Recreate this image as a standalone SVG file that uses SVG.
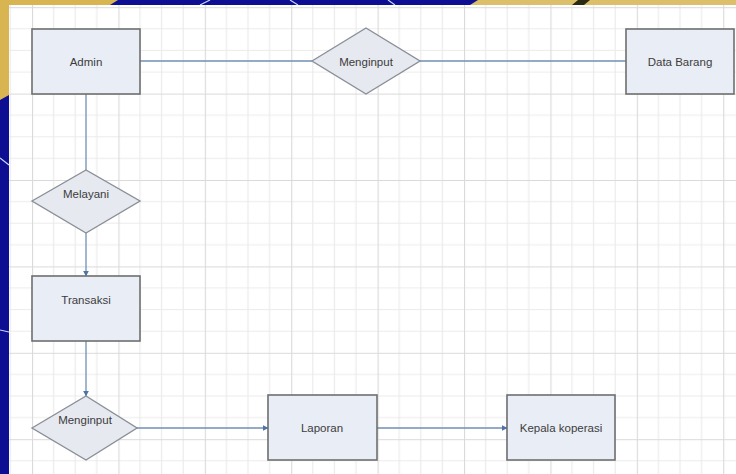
<svg xmlns="http://www.w3.org/2000/svg" width="736" height="474" viewBox="0 0 736 474">
  <style>
    .ent { fill: #e9edf6; stroke: #6e6e6e; stroke-width: 1.6; }
    .rel { fill: #e6e9f0; stroke: #8a8f98; stroke-width: 1.4; }
    .lbl { font-family: "Liberation Sans", Arial, sans-serif; font-size: 11.5px; fill: #3c3c3c; text-anchor: middle; dominant-baseline: central; }
    .con { fill: none; stroke: #6f8fb5; stroke-width: 1.3; }
  </style>
  <defs>
    <pattern id="grid" patternUnits="userSpaceOnUse" x="32" y="7.2" width="86.4" height="86.4">
      <path d="M21.6 0V86.4M43.2 0V86.4M64.8 0V86.4M0 21.6H86.4M0 43.2H86.4M0 64.8H86.4" stroke="#ebebeb" stroke-width="1.2" fill="none"/>
      <path d="M0.5 0V86.4M0 0.5H86.4" stroke="#dadada" stroke-width="1.2" fill="none"/>
    </pattern>
    <marker id="arr" viewBox="0 0 10 10" refX="9" refY="5" markerWidth="6" markerHeight="6" orient="auto" markerUnits="userSpaceOnUse">
      <path d="M0 0L10 5L0 10z" fill="#4f74a3"/>
    </marker>
  </defs>

  <!-- background decoration -->
  <rect x="0" y="0" width="736" height="474" fill="#0e0e92"/>
  <polygon points="0,0 118,0 110,5 9,5 9,95 0,100" fill="#d9b552"/>
  <polygon points="478,0 736,0 736,5 470,5" fill="#dcbf6a"/>
  <polygon points="578,0 590,0 584,5 572,5" fill="#2a2a10"/>
  <path d="M0 158L9 165M0 330L9 332M200 5L210 0M290 0L298 5M388 0L395 5" stroke="#c9d3ff" stroke-width="1.2"/>

  <!-- grid area -->
  <rect x="9" y="5" width="727" height="469" fill="#ffffff"/>
  <rect x="9" y="5" width="727" height="469" fill="url(#grid)"/>

  <g id="connectors">
    <line class="con" x1="140" y1="61" x2="312" y2="61"/>
    <line class="con" x1="420" y1="61" x2="626" y2="61"/>
    <line class="con" x1="86" y1="94" x2="86" y2="170"/>
    <line class="con" x1="86" y1="233" x2="86" y2="276" marker-end="url(#arr)"/>
    <line class="con" x1="86" y1="341" x2="86" y2="396" marker-end="url(#arr)"/>
    <line class="con" x1="137" y1="428" x2="268" y2="428" marker-end="url(#arr)"/>
    <line class="con" x1="377" y1="428" x2="507" y2="428" marker-end="url(#arr)"/>
  </g>

  <g id="admin">
    <rect class="ent" x="32" y="29" width="108" height="65"/>
    <text class="lbl" x="86" y="61.5">Admin</text>
  </g>
  <g id="menginput1">
    <polygon class="rel" points="312,61 366,28 420,61 366,94"/>
    <text class="lbl" x="366" y="61.5">Menginput</text>
  </g>
  <g id="data-barang">
    <rect class="ent" x="626" y="29" width="108" height="65"/>
    <text class="lbl" x="680" y="61.5">Data Barang</text>
  </g>
  <g id="melayani">
    <polygon class="rel" points="32,201 86,170 140,201 86,233"/>
    <text class="lbl" x="86" y="194">Melayani</text>
  </g>
  <g id="transaksi">
    <rect class="ent" x="32" y="276" width="108" height="65"/>
    <text class="lbl" x="86" y="300">Transaksi</text>
  </g>
  <g id="menginput2">
    <polygon class="rel" points="32,428 86,396 137,428 86,460"/>
    <text class="lbl" x="85" y="420">Menginput</text>
  </g>
  <g id="laporan">
    <rect class="ent" x="268" y="395" width="109" height="65"/>
    <text class="lbl" x="322" y="428">Laporan</text>
  </g>
  <g id="kepala-koperasi">
    <rect class="ent" x="507" y="395" width="108" height="65"/>
    <text class="lbl" x="561" y="427.5">Kepala koperasi</text>
  </g>
</svg>
